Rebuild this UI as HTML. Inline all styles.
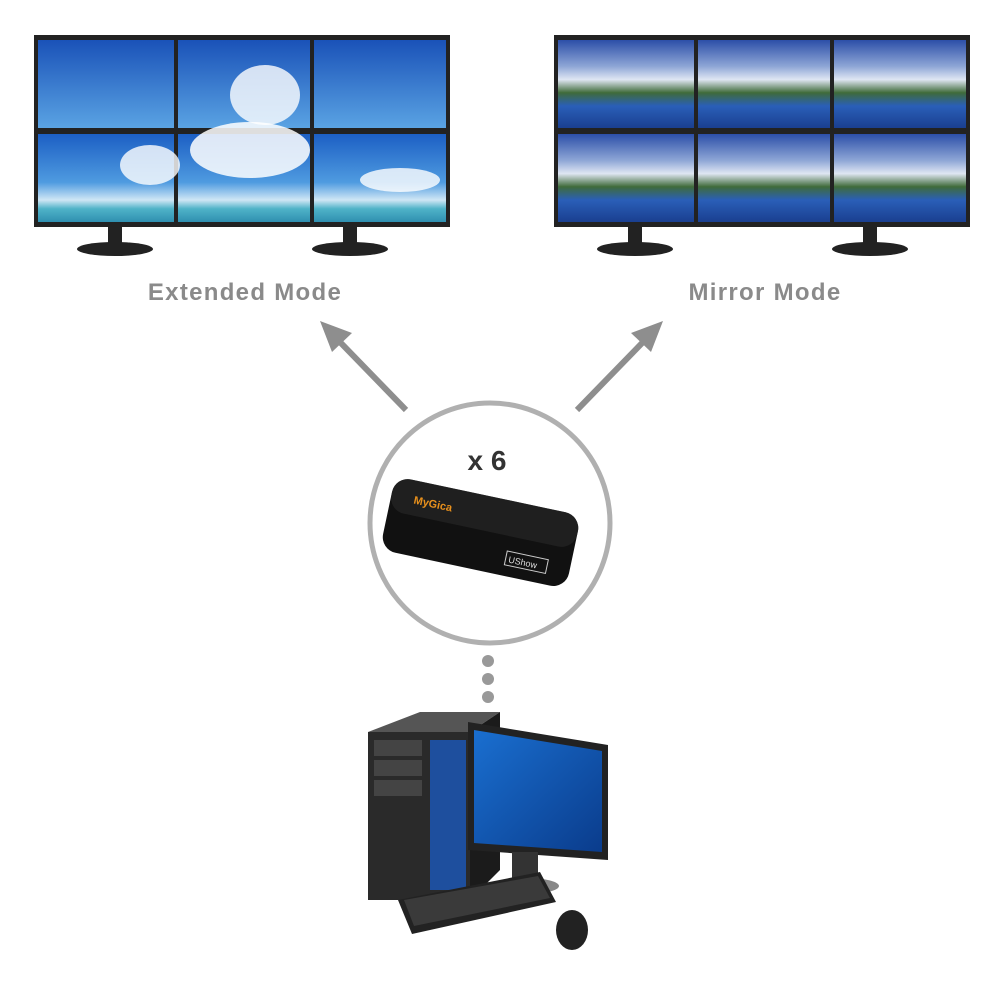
<!DOCTYPE html>
<html><head><meta charset="utf-8"><style>
html,body{margin:0;padding:0;background:#fff;}
svg{display:block}
</style></head><body>
<svg width="1000" height="1000" viewBox="0 0 1000 1000" xmlns="http://www.w3.org/2000/svg">
<defs>
<linearGradient id="sky" x1="0" y1="0" x2="0" y2="1">
<stop offset="0" stop-color="#1c5fc4"/><stop offset="0.55" stop-color="#4f9be0"/><stop offset="0.75" stop-color="#cfe6f5"/><stop offset="0.85" stop-color="#4fb3c8"/><stop offset="1" stop-color="#2f8fb0"/>
</linearGradient>
<linearGradient id="sky2" x1="0" y1="0" x2="0" y2="1">
<stop offset="0" stop-color="#1a52b8"/><stop offset="1" stop-color="#5aa3e3"/>
</linearGradient>
<linearGradient id="mtn" x1="0" y1="0" x2="0" y2="1">
<stop offset="0" stop-color="#2c4fa8"/><stop offset="0.3" stop-color="#8ea6d6"/><stop offset="0.45" stop-color="#dfe6f3"/><stop offset="0.6" stop-color="#3f6b3a"/><stop offset="0.75" stop-color="#2a5fb8"/><stop offset="1" stop-color="#1a3f90"/>
</linearGradient>
<linearGradient id="mon" x1="0" y1="0" x2="1" y2="1">
<stop offset="0" stop-color="#1a6fd0"/><stop offset="1" stop-color="#0a3c8c"/>
</linearGradient>
</defs>

<g>
<rect x="34" y="35" width="416" height="192" fill="#222"/>
<rect x="38" y="40" width="136" height="88" fill="url(#sky2)"/>
<rect x="178" y="40" width="132" height="88" fill="url(#sky2)"/>
<rect x="314" y="40" width="132" height="88" fill="url(#sky2)"/>
<rect x="38" y="134" width="136" height="88" fill="url(#sky)"/>
<rect x="178" y="134" width="132" height="88" fill="url(#sky)"/>
<rect x="314" y="134" width="132" height="88" fill="url(#sky)"/>
<ellipse cx="250" cy="150" rx="60" ry="28" fill="#fff" opacity="0.85"/>
<ellipse cx="265" cy="95" rx="35" ry="30" fill="#fff" opacity="0.8"/>
<ellipse cx="150" cy="165" rx="30" ry="20" fill="#fff" opacity="0.8"/>
<ellipse cx="400" cy="180" rx="40" ry="12" fill="#fff" opacity="0.8"/>
<rect x="108" y="227" width="14" height="18" fill="#222"/>
<ellipse cx="115" cy="249" rx="38" ry="7" fill="#222"/>
<rect x="343" y="227" width="14" height="18" fill="#222"/>
<ellipse cx="350" cy="249" rx="38" ry="7" fill="#222"/>
</g>

<g>
<rect x="554" y="35" width="416" height="192" fill="#222"/>
<rect x="558" y="40" width="136" height="88" fill="url(#mtn)"/>
<rect x="698" y="40" width="132" height="88" fill="url(#mtn)"/>
<rect x="834" y="40" width="132" height="88" fill="url(#mtn)"/>
<rect x="558" y="134" width="136" height="88" fill="url(#mtn)"/>
<rect x="698" y="134" width="132" height="88" fill="url(#mtn)"/>
<rect x="834" y="134" width="132" height="88" fill="url(#mtn)"/>
<rect x="628" y="227" width="14" height="18" fill="#222"/>
<ellipse cx="635" cy="249" rx="38" ry="7" fill="#222"/>
<rect x="863" y="227" width="14" height="18" fill="#222"/>
<ellipse cx="870" cy="249" rx="38" ry="7" fill="#222"/>
</g>

<text x="245" y="300" text-anchor="middle" font-family="Liberation Sans, sans-serif" font-weight="bold" font-size="24" letter-spacing="1.3" fill="#8a8a8a">Extended Mode</text>
<text x="765" y="300" text-anchor="middle" font-family="Liberation Sans, sans-serif" font-weight="bold" font-size="24" letter-spacing="1.3" fill="#8a8a8a">Mirror Mode</text>

<g stroke="#8e8e8e" stroke-width="6" fill="#8e8e8e">
<line x1="406" y1="410" x2="338" y2="340"/>
<line x1="577" y1="410" x2="645" y2="340"/>
</g>
<polygon points="320,321 352,333 332,352" fill="#8e8e8e"/>
<polygon points="663,321 631,333 651,352" fill="#8e8e8e"/>

<circle cx="490" cy="523" r="120" fill="none" stroke="#b0b0b0" stroke-width="5"/>
<text x="487" y="470" text-anchor="middle" font-family="Liberation Sans, sans-serif" font-weight="bold" font-size="28" fill="#333">x 6</text>

<g transform="rotate(12 480 535)">
<rect x="385" y="495" width="190" height="75" rx="16" fill="#111"/>
<rect x="385" y="495" width="190" height="35" rx="16" fill="#2a2a2a" opacity="0.6"/>
<text x="408" y="518" font-family="Liberation Sans, sans-serif" font-size="11" font-weight="bold" fill="#e8901c">MyGica</text>
<rect x="510" y="545" width="42" height="14" fill="none" stroke="#ccc" stroke-width="1"/>
<text x="513" y="556" font-family="Liberation Sans, sans-serif" font-size="9" fill="#ddd">UShow</text>
</g>

<circle cx="488" cy="661" r="6" fill="#999"/>
<circle cx="488" cy="679" r="6" fill="#999"/>
<circle cx="488" cy="697" r="6" fill="#999"/>

<polygon points="368,732 420,712 500,712 470,732" fill="#555"/>
<rect x="368" y="732" width="102" height="168" fill="#2a2a2a"/>
<rect x="374" y="740" width="48" height="16" fill="#444"/>
<rect x="374" y="760" width="48" height="16" fill="#444"/>
<rect x="374" y="780" width="48" height="16" fill="#444"/>
<rect x="430" y="740" width="36" height="150" fill="#1e4f9e"/>
<polygon points="470,732 500,712 500,870 470,900" fill="#1b1b1b"/>
<polygon points="468,722 608,745 608,860 468,850" fill="#222"/>
<polygon points="474,730 602,751 602,852 474,843" fill="url(#mon)"/>
<rect x="512" y="852" width="26" height="30" fill="#333"/>
<ellipse cx="527" cy="886" rx="32" ry="8" fill="#888"/>
<polygon points="398,900 540,872 556,902 412,934" fill="#222"/>
<polygon points="404,900 538,876 550,898 414,926" fill="#3a3a3a"/>
<ellipse cx="572" cy="930" rx="16" ry="20" fill="#222"/>
</svg>
</body></html>
